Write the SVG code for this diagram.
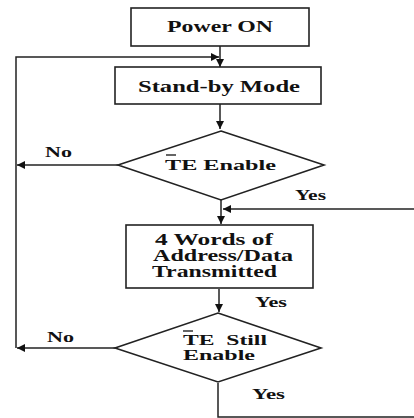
<svg xmlns="http://www.w3.org/2000/svg" width="414" height="418" viewBox="0 0 414 418">
<style>
.box{fill:#fff;stroke:#222;stroke-width:1.6}
.ln{fill:none;stroke:#222;stroke-width:1.5}
.t{font-family:"Liberation Serif","Times New Roman",serif;font-weight:bold;fill:#111;text-anchor:middle}
.l{font-family:"Liberation Serif","Times New Roman",serif;font-weight:bold;fill:#111}
.ob{stroke:#111;stroke-width:1.3}
</style>
<defs>
<marker id="ah" viewBox="0 0 10 10" refX="10" refY="5" markerWidth="8" markerHeight="8" markerUnits="userSpaceOnUse" orient="auto">
<path d="M0,0 L10,5 L0,10 Z" fill="#111"/>
</marker>
</defs>
<g id="connectors">
<path class="ln" d="M220,46 V67" marker-end="url(#ah)"/>
<path class="ln" d="M16,348 V57 H219" marker-end="url(#ah)"/>
<path class="ln" d="M220,104 V129" marker-end="url(#ah)"/>
<path class="ln" d="M118,165 H17" marker-end="url(#ah)"/>
<path class="ln" d="M221,200 V224" marker-end="url(#ah)"/>
<path class="ln" d="M414,209 H223" marker-end="url(#ah)"/>
<path class="ln" d="M219,289 V312" marker-end="url(#ah)"/>
<path class="ln" d="M115,348 H17" marker-end="url(#ah)"/>
<path class="ln" d="M218,383 V417 H414"/>
<text class="l" x="45" y="157" font-size="14" textLength="27" lengthAdjust="spacingAndGlyphs">No</text>
<text class="l" x="295" y="200" font-size="14" textLength="31" lengthAdjust="spacingAndGlyphs">Yes</text>
<text class="l" x="255" y="307" font-size="14" textLength="32" lengthAdjust="spacingAndGlyphs">Yes</text>
<text class="l" x="47" y="342" font-size="14" textLength="27" lengthAdjust="spacingAndGlyphs">No</text>
<text class="l" x="252" y="399" font-size="14" textLength="33" lengthAdjust="spacingAndGlyphs">Yes</text>
</g>
<g id="power-on">
<rect class="box" x="131" y="8" width="178" height="38"/>
<text class="t" x="220" y="32" font-size="16" textLength="106" lengthAdjust="spacingAndGlyphs">Power ON</text>
</g>
<g id="standby">
<rect class="box" x="115" y="67" width="206" height="37"/>
<text class="t" x="219" y="92" font-size="16" textLength="162" lengthAdjust="spacingAndGlyphs">Stand-by Mode</text>
</g>
<g id="te-enable">
<polygon class="box" points="221,131 324,165 221,200 118,165"/>
<text class="t" x="220.5" y="170" font-size="14" textLength="111" lengthAdjust="spacingAndGlyphs">TE Enable</text>
<line class="ob" x1="166" y1="155" x2="176" y2="155"/>
</g>
<g id="transmit">
<rect class="box" x="126" y="225" width="187" height="63"/>
<text class="t" x="214" y="245" font-size="16" textLength="118" lengthAdjust="spacingAndGlyphs">4 Words of</text>
<text class="t" x="223" y="261" font-size="16" textLength="140" lengthAdjust="spacingAndGlyphs">Address/Data</text>
<text class="t" x="214.5" y="277" font-size="16" textLength="125" lengthAdjust="spacingAndGlyphs">Transmitted</text>
</g>
<g id="te-still">
<polygon class="box" points="218,313 321,348 218,382 115,348"/>
<text class="t" x="225" y="345" font-size="14" textLength="84" lengthAdjust="spacingAndGlyphs" xml:space="preserve">TE  Still</text>
<text class="t" x="219" y="360" font-size="14" textLength="72" lengthAdjust="spacingAndGlyphs">Enable</text>
<line class="ob" x1="183" y1="331" x2="193" y2="331"/>
</g>
</svg>
